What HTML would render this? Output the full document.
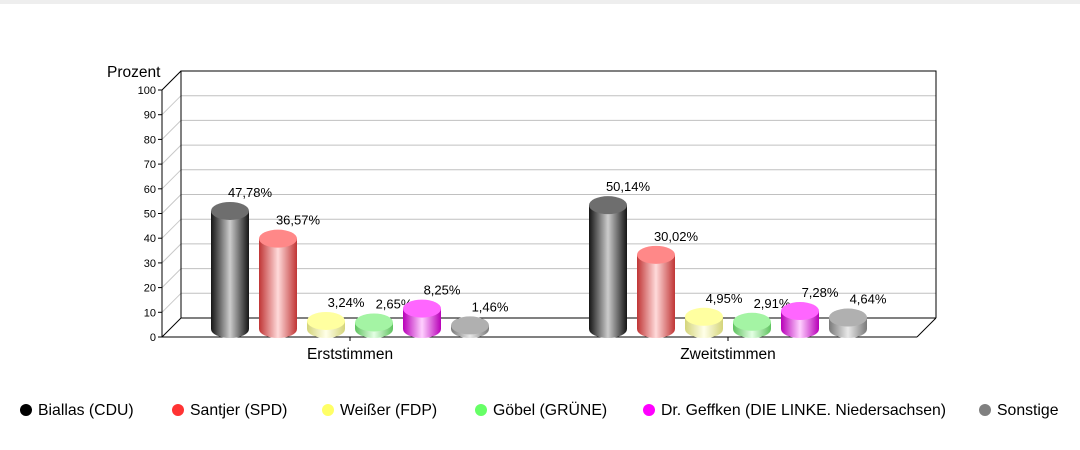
<!DOCTYPE html>
<html><head><meta charset="utf-8"><style>
body{margin:0;background:#fff;font-family:"Liberation Sans",sans-serif}
svg{display:block}
</style></head><body>
<svg id="c" width="1080" height="450" xmlns="http://www.w3.org/2000/svg">
<defs id="defs"></defs>
</svg>
<script>
const categories=["Erststimmen","Zweitstimmen"];
const parties=["Biallas (CDU)","Santjer (SPD)","Weißer (FDP)","Göbel (GRÜNE)","Dr. Geffken (DIE LINKE. Niedersachsen)","Sonstige"];
const erst=[47.78,36.57,3.24,2.65,8.25,1.46];
const zweit=[50.14,30.02,4.95,2.91,7.28,4.64];
const yTicks=[0,10,20,30,40,50,60,70,80,90,100];
const series=[erst,zweit];
const NS="http://www.w3.org/2000/svg";
const svg=document.getElementById('c'),defs=document.getElementById('defs');
function mk(t,a,p){const e=document.createElementNS(NS,t);for(const k in a)e.setAttribute(k,a[k]);(p||svg).appendChild(e);return e;}
const x0=162,y0=337,D=19,W=755,H=247;
function y(v){return y0-v/100*H;}
const strip=mk('rect',{x:0,y:0,width:1080,height:4,fill:'#eeeeee'});

yTicks.forEach(t=>{
 if(t>0){const g=mk('line',{x1:x0+D,y1:y(t)-D,x2:x0+D+W,y2:y(t)-D,stroke:'#c0c0c0','stroke-width':1});
 
 mk('line',{x1:x0,y1:y(t),x2:x0+D,y2:y(t)-D,stroke:'#c8c8c8','stroke-width':1});}
 mk('line',{x1:x0-4,y1:y(t),x2:x0,y2:y(t),stroke:'#000'});
 const tl=mk('text',{x:x0-6,y:y(t)+4,'text-anchor':'end','font-size':11,fill:'#000'});tl.textContent=t;
 
});
mk('polyline',{points:`${x0+D},${y0-D} ${x0+D},${y(100)-D} ${x0+D+W},${y(100)-D} ${x0+D+W},${y0-D}`,fill:'none',stroke:'#000'});
mk('line',{x1:x0+D,y1:y0-D,x2:x0+D+W,y2:y0-D,stroke:'#000'});
mk('line',{x1:x0,y1:y0,x2:x0,y2:y(100),stroke:'#000'});
mk('line',{x1:x0,y1:y(100),x2:x0+D,y2:y(100)-D,stroke:'#000'});
mk('line',{x1:x0,y1:y0,x2:x0+D,y2:y0-D,stroke:'#000'});
mk('line',{x1:x0,y1:y0,x2:x0+W,y2:y0,stroke:'#000'});
mk('line',{x1:x0+W,y1:y0,x2:x0+W+D,y2:y0-D,stroke:'#000'});
const yt=mk('text',{x:107,y:77,'font-size':15.5,fill:'#000'});yt.textContent='Prozent';

const cols=[['#151515','#cccccc','#6e6e6e'],['#c03535','#ffdada','#ff8888'],['#d4d47a','#ffffe8','#ffffa0'],['#5ec25e','#e4ffe4','#a4f4a4'],['#b800b8','#ffd0ff','#ff66ff'],['#7a7a7a','#e8e8e8','#b0b0b0']];
cols.forEach((c,i)=>{const g=mk('linearGradient',{id:'g'+i,x1:0,x2:1,y1:0,y2:0},defs);
 mk('stop',{offset:'0','stop-color':c[0]},g);mk('stop',{offset:'0.5','stop-color':c[1]},g);mk('stop',{offset:'1','stop-color':c[0]},g);});
const groupX=[230,608],step=48,r=19,ry=9,base=329,sc=H/100;
series.forEach((vals,gi)=>{
 const tx=groupX[gi]+step*2.5;
 mk('line',{x1:tx,y1:y0,x2:tx,y2:y0+4,stroke:'#000'});
 const cl=mk('text',{x:tx,y:359,'text-anchor':'middle','font-size':15.5,fill:'#000'});cl.textContent=categories[gi];
 
 vals.forEach((v,i)=>{
  const cx=groupX[gi]+i*step,top=base-v*sc;
  const grp=mk('g',{});
  
  
  mk('path',{d:`M${cx-r},${top} L${cx-r},${base} A${r},${ry} 0 0 0 ${cx+r},${base} L${cx+r},${top} Z`,fill:`url(#g${i})`},grp);
  mk('ellipse',{cx:cx,cy:top,rx:r,ry:ry,fill:cols[i][2]},grp);
  const lb=mk('text',{x:cx+20,y:top-14,'text-anchor':'middle','font-size':13,fill:'#000'});
  lb.textContent=v.toFixed(2).replace('.',',')+'%';
  
 });
});
const legX=[26,178,328,481,649,985],legC=['#000000','#ff3333','#ffff66','#66ff66','#ff00ff','#808080'];
parties.forEach((p,i)=>{
 const g=mk('g',{});
 mk('circle',{cx:legX[i],cy:410,r:6,fill:legC[i]},g);
 const t=mk('text',{x:legX[i]+12,y:415,'font-size':15.8,fill:'#000'},g);t.textContent=p;
});
</script>
</body></html>
